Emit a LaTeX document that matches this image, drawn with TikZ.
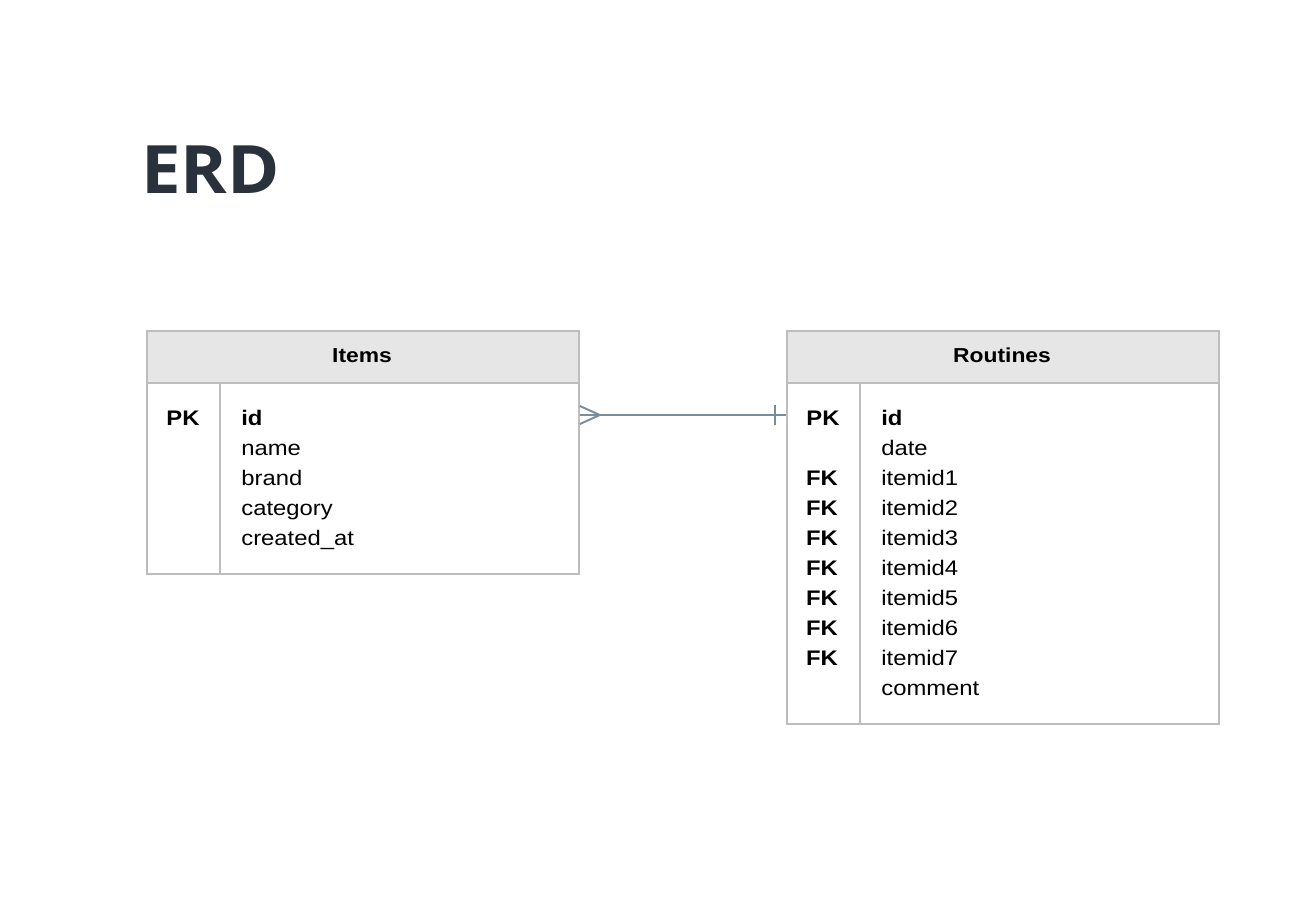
\documentclass[tikz,border=0pt]{standalone}
\usepackage{fontspec}
\setmainfont{Liberation Sans}[FakeStretch=1.13]
\newfontfamily\titlefont{Open Sans}[FakeStretch=1.06]
\usepackage{xcolor}
\usetikzlibrary{positioning, calc}

\definecolor{titlegray}{HTML}{29313D}
\definecolor{rulegray}{HTML}{BDBDBD}
\definecolor{headfill}{HTML}{E6E6E6}
\definecolor{linkgray}{HTML}{7A8C99}

\begin{document}
\begin{tikzpicture}[
  x=0.02cm, y=-0.02cm,
  font=\fontsize{12pt}{14pt}\selectfont,
  head/.style={
    draw=rulegray, line width=1.1pt, fill=headfill,
    anchor=north west, minimum width=8.64cm, minimum height=1.04cm,
    inner sep=0pt
  },
  body/.style={
    draw=rulegray, line width=1.1pt,
    anchor=north west, minimum width=8.64cm, inner sep=0pt
  },
  headtext/.style={anchor=base, inner sep=0pt, font=\fontsize{11.5pt}{14pt}\selectfont\bfseries},
  key/.style={anchor=base, inner sep=0pt, font=\fontsize{12pt}{14pt}\selectfont\bfseries},
  field/.style={anchor=base west, inner sep=0pt},
  link/.style={draw=linkgray, line width=1.1pt},
]
\useasboundingbox (0,0) rectangle (1309,921);

%% Title
\node[anchor=base west, inner sep=0pt, text=titlegray,
      font=\titlefont\fontsize{38pt}{44pt}\selectfont\bfseries] (title) at (141,193) {ERD};

%% Items table
\node[head] (itemshead) at (146,330) {};
\node[headtext] (itemsname) at (362,362.5) {Items};
\node[body, minimum height=3.82cm] (itemsbody) at (146,382) {};
\draw[rulegray, line width=1.1pt] (220,382) -- (220,573);
\node[key] (itemspk) at (183,425.3) {PK};
\node[field, font=\fontsize{12pt}{14pt}\selectfont\bfseries] (itemsid) at (241,425.3) {id};
\foreach \name [count=\i] in {name, brand, category, created\_at}
  \node[field] (itemsf\i) at (241,425.3+30*\i) {\name};

%% Routines table
\node[head] (routhead) at (786,330) {};
\node[headtext] (routname) at (1002,362.5) {Routines};
\node[body, minimum height=6.82cm] (routbody) at (786,382) {};
\draw[rulegray, line width=1.1pt] (860,382) -- (860,723);
\node[key] (routpk) at (823,425.3) {PK};
\node[field, font=\fontsize{12pt}{14pt}\selectfont\bfseries] (routid) at (881,425.3) {id};
\node[field] (routdate) at (881,455.3) {date};
\foreach \i in {1,...,7} {
  \node[key] (routfk\i) at (822,455.3+30*\i) {FK};
  \node[field] (routitem\i) at (881,455.3+30*\i) {itemid\i};
}
\node[field] (routcomment) at (881,695.3) {comment};

%% Relationship: many items -- one routine
\coordinate (manyend) at ($(itemsbody.north east)+(0,33)$);
\coordinate (oneend)  at ($(routbody.north west)+(0,33)$);
\draw[link] (manyend) -- (oneend);
\draw[link] ($(manyend)+(0,-9)$) -- ($(manyend)+(20,0)$) -- ($(manyend)+(0,9)$);
\draw[link] ($(oneend)+(-11,-10)$) -- ($(oneend)+(-11,10)$);
\end{tikzpicture}
\end{document}
